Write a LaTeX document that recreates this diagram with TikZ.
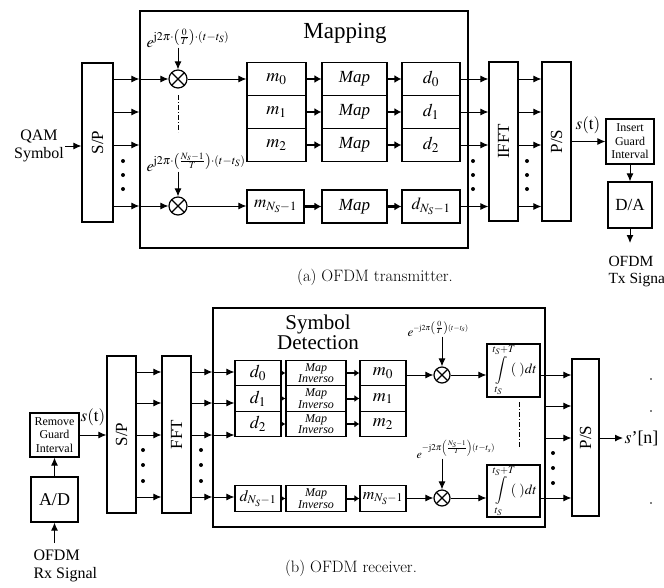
\documentclass[tikz,border=0pt]{standalone}
\usepackage{mathptmx}
\usepackage{fontspec}
\setmainfont{Liberation Serif}
\newfontfamily\capfont{Latin Modern Roman}
\usetikzlibrary{arrows.meta}

\tikzset{
	blk/.style={draw, line width=1.2pt, inner sep=0pt, font=\fontsize{17}{19}\selectfont},
	wh/.style 2 args={minimum width=#1pt, minimum height=#2pt},
	frm/.style={draw, line width=1.4pt, inner sep=0pt},
	mix/.style={circle, draw, line width=1.2pt, minimum size=18pt, inner sep=0pt,
		path picture={\draw[line width=1.2pt] (path picture bounding box.south west) to (path picture bounding box.north east)
			(path picture bounding box.north west) to (path picture bounding box.south east);}},
	bold/.style={line width=2.5pt, -{Latex[length=7pt,width=8pt]}},
	dashdot/.style={line width=1pt, dash pattern=on 5pt off 2pt on 1pt off 2pt},
	expo/.style={anchor=base west, inner sep=0pt},
	capt/.style={font={\capfont\fontsize{16.5}{18}\selectfont}},
}

\begin{document}
\begin{tikzpicture}[x=1pt, y=-1pt, line width=1pt, >={Latex[length=8pt,width=7pt]}]
	\useasboundingbox (0,0) rectangle (664,587);
	\node[align=center, inner sep=1pt, font=\fontsize{16}{18}\selectfont] (1) at (39,146) {QAM\\Symbol};
	\node[blk, wh={31}{159}] (2) at (97.5,142.5) {\rotatebox{90}{S/P}};
	\node[frm, wh={328}{237}] (3) at (304,129.5) {};
	\node[font=\fontsize{23}{25}\selectfont] (4) at (345,33) {Mapping};
	\node[mix] (5) at (178,79) {};
	\node[mix] (6) at (178,206) {};
	\node[expo, font=\fontsize{16}{18}\selectfont] (7) at (146,47) {$e^{\mathrm{j}2\pi\cdot\left(\frac{0}{T}\right)\cdot(t-t_S)}$};
	\node[expo, font=\fontsize{16}{18}\selectfont] (8) at (146,171) {$e^{\mathrm{j}2\pi\cdot\left(\frac{N_s-1}{T}\right)\cdot(t-t_S)}$};
	\coordinate (9) at (178,95);
	\coordinate (10) at (178,132);
	\node[blk, wh={59}{33}, font=\fontsize{18}{20}\selectfont] (11) at (276.5,79) {$m_0$};
	\node[blk, wh={59}{33}, font=\fontsize{18}{20}\selectfont] (12) at (276.5,112) {$m_1$};
	\node[blk, wh={59}{33}, font=\fontsize{18}{20}\selectfont] (13) at (276.5,145) {$m_2$};
	\node[blk, wh={57}{33}] (14) at (275.5,206.5) {$m_{N_S-1}$};
	\node[blk, wh={65}{33}] (15) at (354.5,79) {\textit{Map}};
	\node[blk, wh={65}{33}] (16) at (354.5,112) {\textit{Map}};
	\node[blk, wh={65}{33}] (17) at (354.5,145) {\textit{Map}};
	\node[blk, wh={65}{33}] (18) at (354.5,206.5) {\textit{Map}};
	\node[blk, wh={58}{33}, font=\fontsize{18}{20}\selectfont] (19) at (431,79) {$d_0$};
	\node[blk, wh={58}{33}, font=\fontsize{18}{20}\selectfont] (20) at (431,112) {$d_1$};
	\node[blk, wh={58}{33}, font=\fontsize{18}{20}\selectfont] (21) at (431,145) {$d_2$};
	\node[blk, wh={58}{33}] (22) at (431,206.5) {$d_{N_S-1}$};
	\node[blk, wh={29}{159}] (23) at (503.5,141.5) {\rotatebox{90}{IFFT}};
	\node[blk, wh={29}{159}] (24) at (556.5,141.5) {\rotatebox{90}{P/S}};
	\node[font=\fontsize{17}{19}\selectfont, inner sep=0pt] (25) at (588,125) {$s(\mathrm{t})$};
	\node[blk, wh={48}{45}, align=center, font=\fontsize{12}{13.5}\selectfont] (26) at (630,141.5) {Insert\\Guard\\Interval};
	\node[blk, wh={44}{46}] (27) at (630,205) {D/A};
	\coordinate (28) at (630,243);
	\node[anchor=north west, align=left, inner sep=0pt, font=\fontsize{15.5}{17}\selectfont] (29) at (608,256) {OFDM\\Tx Signa};
	\node[capt] (30) at (375,277) {(a)\ OFDM transmitter.};
	\draw[->] (1.east) to (1.east -| 2.west);
	\foreach \n in {5,12,13,6} \draw[->] (2.east |- \n) to (3.west |- \n);
	\draw[->] (3.west |- 5) to (5);
	\draw[->] (3.west |- 6) to (6);
	\draw[->] (5 |- 7.south) to (5);
	\draw[->] (6 |- 8.south) to (6);
	\draw[dashdot] (9) to (10);
	\draw[->] (5) to (11);
	\draw[->] (6) to (6 -| 14.west);
	\foreach \a/\b in {11/15,15/19,12/16,16/20,13/17,17/21,14/18,18/22} \draw[bold] (\a) to (\b);
	\foreach \n in {19,20,21,22} \draw[->] (\n) to (\n -| 23.west);
	\foreach \n in {19,20,21,22} \draw[->] (23.east |- \n) to (24.west |- \n);
	\draw[->] (24.east |- 26) to (26);
	\draw[->] (26) to (27);
	\draw[->] (27) to (28);
	\foreach \x in {123,473,527} \foreach \y in {161,175,189} \fill (\x,\y) circle (2);
	\node[anchor=north west, align=left, inner sep=0pt, font=\fontsize{16}{18}\selectfont] (31) at (33,549) {OFDM\\Rx Signal};
	\coordinate (32) at (54.5,543);
	\node[blk, wh={47}{45}, font=\fontsize{18}{20}\selectfont] (33) at (54.5,499.5) {A/D};
	\node[blk, wh={49}{44}, align=center, font=\fontsize{12}{13.5}\selectfont] (34) at (54.5,435) {Remove\\Guard\\Interval};
	\node[font=\fontsize{17}{19}\selectfont, inner sep=0pt] (35) at (93,417) {$s(\mathrm{t})$};
	\node[blk, wh={29}{157}] (36) at (121.5,434.5) {\rotatebox{90}{S/P}};
	\node[blk, wh={29}{157}] (37) at (176.5,434.5) {\rotatebox{90}{FFT}};
	\node[frm, wh={332}{219}] (38) at (379,417.5) {};
	\node[align=center, font=\fontsize{21}{20}\selectfont] (39) at (318,332) {Symbol\\Detection};
	\node[blk, wh={46}{25.5}, font=\fontsize{18}{20}\selectfont] (40) at (258,373) {$d_0$};
	\node[blk, wh={46}{25.5}, font=\fontsize{18}{20}\selectfont] (41) at (258,398.5) {$d_1$};
	\node[blk, wh={46}{25.5}, font=\fontsize{18}{20}\selectfont] (42) at (258,424) {$d_2$};
	\node[blk, wh={46}{25.5}, font=\fontsize{16}{18}\selectfont] (43) at (258,498.5) {$d_{N_S-1}$};
	\node[blk, wh={60}{25.5}, align=center, font=\fontsize{12}{10}\selectfont\itshape] (44) at (316,373) {Map\\Inverso};
	\node[blk, wh={60}{25.5}, align=center, font=\fontsize{12}{10}\selectfont\itshape] (45) at (316,398.5) {Map\\Inverso};
	\node[blk, wh={60}{25.5}, align=center, font=\fontsize{12}{10}\selectfont\itshape] (46) at (316,424) {Map\\Inverso};
	\node[blk, wh={60}{25.5}, align=center, font=\fontsize{12}{10}\selectfont\itshape] (47) at (316,498.5) {Map\\Inverso};
	\node[blk, wh={46}{25.5}, font=\fontsize{18}{20}\selectfont] (48) at (383,373) {$m_0$};
	\node[blk, wh={46}{25.5}, font=\fontsize{18}{20}\selectfont] (49) at (383,398.5) {$m_1$};
	\node[blk, wh={46}{25.5}, font=\fontsize{18}{20}\selectfont] (50) at (383,424) {$m_2$};
	\node[blk, wh={46}{25.5}, font=\fontsize{16}{18}\selectfont] (51) at (383,498.5) {$m_{N_S-1}$};
	\node[mix, minimum size=16pt] (52) at (442,375) {};
	\node[mix, minimum size=16pt] (53) at (442,498) {};
	\node[expo, font=\fontsize{13}{15}\selectfont] (54) at (407,336) {$e^{\scriptscriptstyle-\mathrm{j}2\pi\left(\frac{0}{T}\right)(t-t_s)}$};
	\node[expo, font=\fontsize{12}{14}\selectfont] (55) at (416,458) {$e^{-\mathrm{j}2\pi\left(\frac{N_S-1}{T}\right)(t-t_s)}$};
	\node[blk, wh={53}{53}, font=\fontsize{14}{16}\selectfont] (56) at (513.5,370.5) {$\displaystyle\int\limits_{t_S}^{t_S+T}\!(\;)dt$};
	\node[blk, wh={53}{52}, font=\fontsize{14}{16}\selectfont] (57) at (513.5,491) {$\displaystyle\int\limits_{t_S}^{t_S+T}\!(\;)dt$};
	\coordinate (58) at (519,402);
	\coordinate (59) at (519,448);
	\node[blk, wh={27}{157}] (60) at (585.5,437.5) {\rotatebox{90}{P/S}};
	\node[anchor=west, inner sep=1pt, font=\fontsize{18}{20}\selectfont] (61) at (623,438) {$s$’[n]};
	\node[capt] (62) at (351,568) {(b)\ OFDM receiver.};
	\coordinate (63) at (136,372);
	\coordinate (64) at (136,403);
	\coordinate (65) at (136,435);
	\coordinate (66) at (136,497);
	\coordinate (67) at (545,406);
	\coordinate (68) at (545,438);
	\draw[->] (32) to (33);
	\draw[->] (33) to (34);
	\draw[->] (34) to (34 -| 36.west);
	\foreach \n in {63,64,65,66} {
		\draw[->] (36.east |- \n) to (37.west |- \n);
		\draw[->] (37.east |- \n) to (38.west |- \n);
	}
	\foreach \n/\d in {63/40,64/41,65/42,66/43} \draw[->] (38.west |- \n) to (\d.west |- \n);
	\foreach \a/\b in {40/44,44/48,41/45,45/49,42/46,46/50,43/47,47/51} \draw[line width=2pt, -{Latex[length=5pt,width=7pt]}] (\a) to (\b);
	\draw[->] (48.east |- 52) to (52);
	\draw[->] (51.east |- 53) to (53);
	\draw[->] (52 |- 54.south) to (52);
	\draw[->] (53 |- 55.south) to (53);
	\draw[->] (52) to (52 -| 56.west);
	\draw[->] (53) to (53 -| 57.west);
	\draw[dashdot] (58) to (59);
	\draw[->] (56.east |- 52) to (60.west |- 52);
	\draw[->] (57.east |- 53) to (60.west |- 53);
	\draw[->] (67) to (60.west |- 67);
	\draw[->] (68) to (60.west |- 68);
	\draw[->] (60.east |- 61) to (61);
	\foreach \x in {143,201} \foreach \y in {450,465,481} \fill (\x,\y) circle (2);
	\foreach \y in {453,468,483} \fill (553,\y) circle (2);
	\foreach \y in {379,411,503} \fill (651,\y) circle (.8);
\end{tikzpicture}
\end{document}
